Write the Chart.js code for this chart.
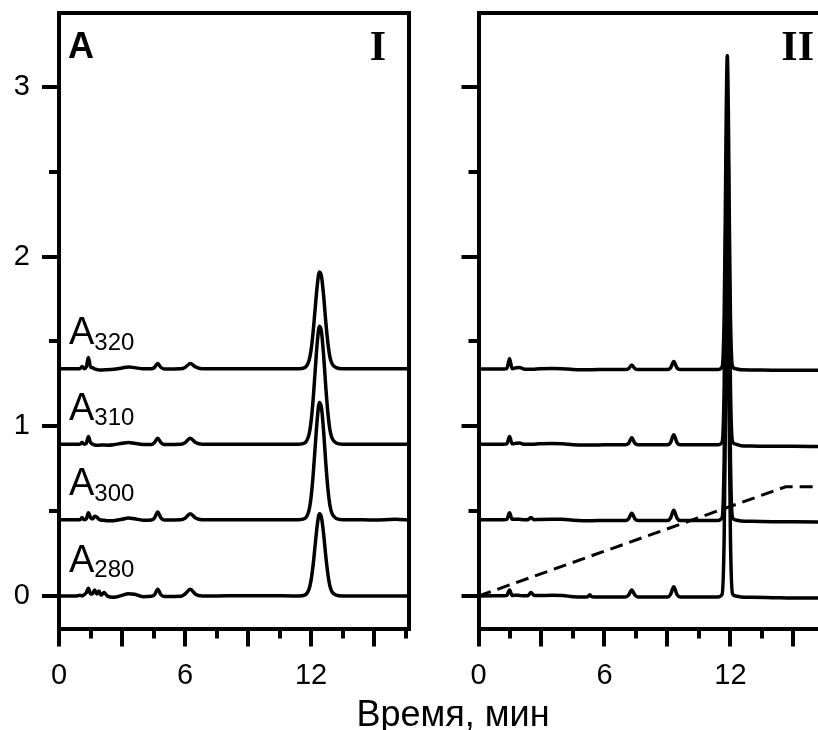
<!DOCTYPE html>
<html><head><meta charset="utf-8">
<script src="https://cdn.jsdelivr.net/npm/chart.js@4.4.1/dist/chart.umd.min.js"></script>
<style>
html,body{margin:0;padding:0;background:#fff;}
#wrap{position:relative;width:818px;height:730px;overflow:hidden;background:#fff;}
canvas{position:absolute;left:0;top:0;}
</style>
</head><body>
<div id="wrap"><canvas id="c1" width="818" height="730"></canvas><canvas id="c2" width="818" height="730"></canvas></div>
<script>
// ---------- DATA ----------
const xTitle = 'Время, мин';
const xMajorTicks = [0, 3, 6, 9, 12, 15];
const xMinorTicks = [1.5, 4.5, 7.5, 10.5, 13.5, 16.5];
const xTickLabels = [0, 6, 12];
const yMajorTicks = [0, 1, 2, 3];
const yMinorTicks = [0.5, 1.5, 2.5];
const yTickLabels = [0, 1, 2, 3];
const seriesBase = [0, 0.45, 0.895, 1.34];
const seriesSub = ['280', '300', '310', '320'];

// Panel I
const timeI = [0, 0.8, 1.0, 1.1, 1.2, 1.3, 1.4, 1.5, 1.6, 1.7, 1.8, 1.9, 2.0, 2.15, 2.3, 2.6, 3.0, 3.3, 3.6, 4.0, 4.4, 4.55, 4.7, 4.85, 5.0, 5.8, 6.0, 6.25, 6.5, 6.8, 8, 10, 11.4, 11.7, 11.9, 12.0, 12.1, 12.2, 12.3, 12.4, 12.5, 12.6, 12.7, 12.8, 12.9, 13.0, 13.2, 13.5, 14, 15, 16, 16.7];
const a280I = [0, 0, 0.005, 0, 0.008, 0.02, 0.045, 0.012, 0.015, 0.035, 0.012, 0.03, 0.005, 0.02, 0, -0.008, 0.004, 0.014, 0.01, -0.004, -0.002, 0.008, 0.04, 0.008, -0.003, -0.002, 0.012, 0.04, 0.01, 0, 0.001, 0.002, 0, 0.005, 0.039, 0.092, 0.184, 0.306, 0.422, 0.485, 0.461, 0.364, 0.238, 0.131, 0.058, 0.024, 0.005, 0, 0, 0, 0, 0];
const a300I = [0.45, 0.45, 0.45, 0.462, 0.45, 0.455, 0.49, 0.462, 0.455, 0.47, 0.465, 0.452, 0.448, 0.446, 0.443, 0.444, 0.452, 0.46, 0.455, 0.447, 0.448, 0.46, 0.495, 0.46, 0.448, 0.449, 0.458, 0.485, 0.46, 0.45, 0.45, 0.45, 0.45, 0.457, 0.505, 0.581, 0.712, 0.885, 1.05, 1.14, 1.106, 0.968, 0.788, 0.636, 0.533, 0.485, 0.457, 0.45, 0.45, 0.448, 0.452, 0.448];
const a310I = [0.895, 0.895, 0.895, 0.905, 0.895, 0.9, 0.94, 0.905, 0.895, 0.89, 0.888, 0.888, 0.89, 0.89, 0.889, 0.892, 0.9, 0.905, 0.9, 0.893, 0.893, 0.905, 0.93, 0.905, 0.893, 0.894, 0.903, 0.93, 0.905, 0.895, 0.895, 0.895, 0.895, 0.902, 0.951, 1.027, 1.159, 1.333, 1.5, 1.59, 1.555, 1.416, 1.236, 1.083, 0.978, 0.93, 0.902, 0.895, 0.895, 0.895, 0.895, 0.895];
const a320I = [1.34, 1.34, 1.34, 1.352, 1.34, 1.35, 1.405, 1.35, 1.345, 1.338, 1.335, 1.332, 1.332, 1.333, 1.334, 1.336, 1.344, 1.35, 1.346, 1.339, 1.339, 1.348, 1.37, 1.348, 1.338, 1.339, 1.347, 1.37, 1.35, 1.34, 1.34, 1.34, 1.34, 1.346, 1.386, 1.448, 1.557, 1.699, 1.836, 1.91, 1.882, 1.768, 1.619, 1.494, 1.408, 1.369, 1.346, 1.34, 1.34, 1.34, 1.34, 1.34];

// Panel II
const timeII = [0, 1.2, 1.35, 1.48, 1.6, 1.8, 1.96, 2.15, 2.35, 2.5, 2.65, 2.9, 3.5, 4.0, 4.5, 5.0, 5.2, 5.3, 5.4, 6.0, 7.0, 7.15, 7.3, 7.45, 7.6, 8.5, 9.0, 9.15, 9.3, 9.45, 9.6, 10.5, 11.4, 11.6, 11.7, 11.75, 11.8, 11.85, 11.9, 11.95, 12.0, 12.1, 12.25, 12.5, 13, 14, 15, 16.2];
const a280II = [0, 0.002, 0.004, 0.035, 0.003, 0.005, 0.003, 0.001, 0.002, 0.02, 0.003, 0.003, 0.004, 0.003, -0.004, -0.006, -0.004, 0.008, -0.004, -0.006, -0.006, 0.005, 0.035, 0.005, -0.006, -0.006, -0.006, 0.01, 0.055, 0.01, -0.006, -0.006, -0.006, 0.009, 0.338, 0.91, 1.634, 1.994, 1.634, 0.91, 0.338, 0.012, 0.0, -0.006, -0.008, -0.01, -0.012, -0.012];
const a300II = [0.45, 0.45, 0.452, 0.49, 0.452, 0.453, 0.452, 0.449, 0.45, 0.462, 0.45, 0.451, 0.452, 0.452, 0.446, 0.444, 0.444, 0.444, 0.444, 0.445, 0.445, 0.455, 0.488, 0.455, 0.445, 0.445, 0.445, 0.46, 0.505, 0.46, 0.445, 0.445, 0.445, 0.461, 0.806, 1.407, 2.167, 2.545, 2.167, 1.407, 0.806, 0.462, 0.448, 0.442, 0.44, 0.438, 0.437, 0.436];
const a310II = [0.895, 0.895, 0.897, 0.94, 0.897, 0.9, 0.902, 0.895, 0.894, 0.894, 0.895, 0.897, 0.899, 0.898, 0.892, 0.89, 0.89, 0.89, 0.89, 0.891, 0.891, 0.9, 0.932, 0.9, 0.891, 0.891, 0.891, 0.905, 0.95, 0.905, 0.891, 0.891, 0.891, 0.906, 1.235, 1.807, 2.531, 2.891, 2.531, 1.807, 1.235, 0.91, 0.895, 0.886, 0.884, 0.882, 0.883, 0.881];
const a320II = [1.338, 1.338, 1.34, 1.4, 1.34, 1.345, 1.347, 1.338, 1.336, 1.336, 1.337, 1.339, 1.341, 1.34, 1.335, 1.334, 1.334, 1.334, 1.334, 1.335, 1.335, 1.34, 1.362, 1.34, 1.335, 1.335, 1.335, 1.345, 1.382, 1.345, 1.335, 1.335, 1.335, 1.349, 1.653, 2.182, 2.852, 3.185, 2.852, 2.182, 1.653, 1.352, 1.34, 1.333, 1.332, 1.331, 1.331, 1.33];
const gradT = [0, 14.63, 16.2];
const gradB = [0, 0.644, 0.644];

// ---------- CHART ----------
const FONT = "'Liberation Sans', Arial, Helvetica, sans-serif";
const SERIF = "'Liberation Serif', 'Times New Roman', serif";
const Y_MIN = -0.1915, Y_MAX = 3.436;
const AXW = 4;

function pts(t, v) { return t.map((x, i) => ({ x: x, y: v[i] })); }
function setTicks(arr) { return s => { s.ticks = arr.map(v => ({ value: v })); }; }
function noPad(s) { s.paddingTop = 0; s.paddingBottom = 0; s.paddingLeft = 0; s.paddingRight = 0; }
function fixW(w) { return s => { s.width = w; noPad(s); }; }
function fixH(h) { return s => { s.height = h; noPad(s); }; }

function traceDs(t, v) {
  return { data: pts(t, v), borderColor: '#000', borderWidth: 3.5, pointRadius: 0, fill: false,
    cubicInterpolationMode: 'monotone', borderJoinStyle: 'round', borderCapStyle: 'round',
    xAxisID: 'x', yAxisID: 'y' };
}

function makeScales(xMax, showYLabels, withRight) {
  const tickGrid = len => ({ display: true, drawOnChartArea: false, drawTicks: true, tickLength: len,
    tickWidth: AXW, tickColor: '#000', lineWidth: AXW, color: '#000' });
  const plainGrid = { display: true, drawOnChartArea: false, drawTicks: false };
  const sc = {
    x: { type: 'linear', position: 'bottom', min: 0, max: xMax, weight: 1,
      afterBuildTicks: setTicks(xMajorTicks), afterFit: fixH(101.5),
      grid: tickGrid(18), border: { display: true, color: '#000', width: AXW },
      ticks: { autoSkip: false, maxRotation: 0, minRotation: 0, padding: 12, color: '#000',
        font: { family: FONT, size: 29 },
        callback: v => xTickLabels.includes(v) ? String(v) : '' } },
    xMinor: { type: 'linear', position: 'bottom', min: 0, max: xMax, weight: 0,
      afterBuildTicks: setTicks(xMinorTicks), afterFit: fixH(0),
      grid: tickGrid(10), border: { display: false }, ticks: { display: false, autoSkip: false } },
    xTop: { type: 'linear', position: 'top', min: 0, max: xMax, afterFit: fixH(0),
      grid: plainGrid, border: { display: true, color: '#000', width: AXW }, ticks: { display: false } },
    y: { type: 'linear', position: 'left', min: Y_MIN, max: Y_MAX, weight: 1,
      afterBuildTicks: setTicks(yMajorTicks), afterFit: fixW(59),
      grid: tickGrid(17), border: { display: true, color: '#000', width: AXW },
      ticks: { display: showYLabels, autoSkip: false, padding: 12, color: '#000',
        font: { family: FONT, size: 29 },
        callback: v => yTickLabels.includes(v) ? String(v) : '' } },
    yMinor: { type: 'linear', position: 'left', min: Y_MIN, max: Y_MAX, weight: 0,
      afterBuildTicks: setTicks(yMinorTicks), afterFit: fixW(0),
      grid: tickGrid(10), border: { display: false }, ticks: { display: false, autoSkip: false } }
  };
  if (withRight) {
    sc.yRight = { type: 'linear', position: 'right', min: Y_MIN, max: Y_MAX, afterFit: fixW(0),
      grid: plainGrid, border: { display: true, color: '#000', width: AXW }, ticks: { display: false } };
  }
  return sc;
}

const commonOpts = {
  responsive: false, animation: false, devicePixelRatio: 1, events: [],
  plugins: { legend: { display: false }, tooltip: { enabled: false } }
};

const textI = {
  id: 'textI',
  afterDraw(chart) {
    const ctx = chart.ctx;
    ctx.save();
    ctx.fillStyle = '#000';
    ctx.textBaseline = 'alphabetic';
    ctx.textAlign = 'left';
    ctx.font = 'bold 36px ' + FONT;
    ctx.fillText('A', 68, 57.5);
    ctx.textAlign = 'right';
    ctx.font = 'bold 42px ' + SERIF;
    ctx.fillText('I', 386, 60);
    const ys = chart.scales.y;
    seriesBase.forEach((b, i) => {
      const yb = ys.getPixelForValue(b) - 24.5;
      ctx.textAlign = 'left';
      ctx.font = '38px ' + FONT;
      ctx.fillText('A', 69, yb);
      const w = ctx.measureText('A').width;
      ctx.font = '24px ' + FONT;
      ctx.fillText(seriesSub[i], 69 + w, yb + 5.5);
    });
    ctx.textAlign = 'center';
    ctx.font = '36px ' + FONT;
    ctx.fillText(xTitle, 453, 726);
    ctx.restore();
  }
};

const textII = {
  id: 'textII',
  afterDraw(chart) {
    const ctx = chart.ctx;
    ctx.save();
    ctx.fillStyle = '#000';
    ctx.textBaseline = 'alphabetic';
    ctx.textAlign = 'right';
    ctx.font = 'bold 42px ' + SERIF;
    ctx.fillText('II', 814, 59.5);
    ctx.restore();
  }
};

new Chart(document.getElementById('c1'), {
  type: 'line',
  data: { datasets: [traceDs(timeI, a280I), traceDs(timeI, a300I), traceDs(timeI, a310I), traceDs(timeI, a320I)] },
  options: Object.assign({}, commonOpts, {
    layout: { padding: { left: 0, top: 13, right: 409.5, bottom: 0 } },
    scales: makeScales(16.64, true, true)
  }),
  plugins: [textI]
});

const gradDs = { data: pts(gradT, gradB), borderColor: '#000', borderWidth: 3, borderDash: [13, 7],
  pointRadius: 0, fill: false, tension: 0, xAxisID: 'x', yAxisID: 'y' };

new Chart(document.getElementById('c2'), {
  type: 'line',
  data: { datasets: [traceDs(timeII, a280II), traceDs(timeII, a300II), traceDs(timeII, a310II), traceDs(timeII, a320II), gradDs] },
  options: Object.assign({}, commonOpts, {
    layout: { padding: { left: 419.5, top: 13, right: 0, bottom: 0 } },
    scales: makeScales(16.17, false, false)
  }),
  plugins: [textII]
});
</script>
</body></html>
